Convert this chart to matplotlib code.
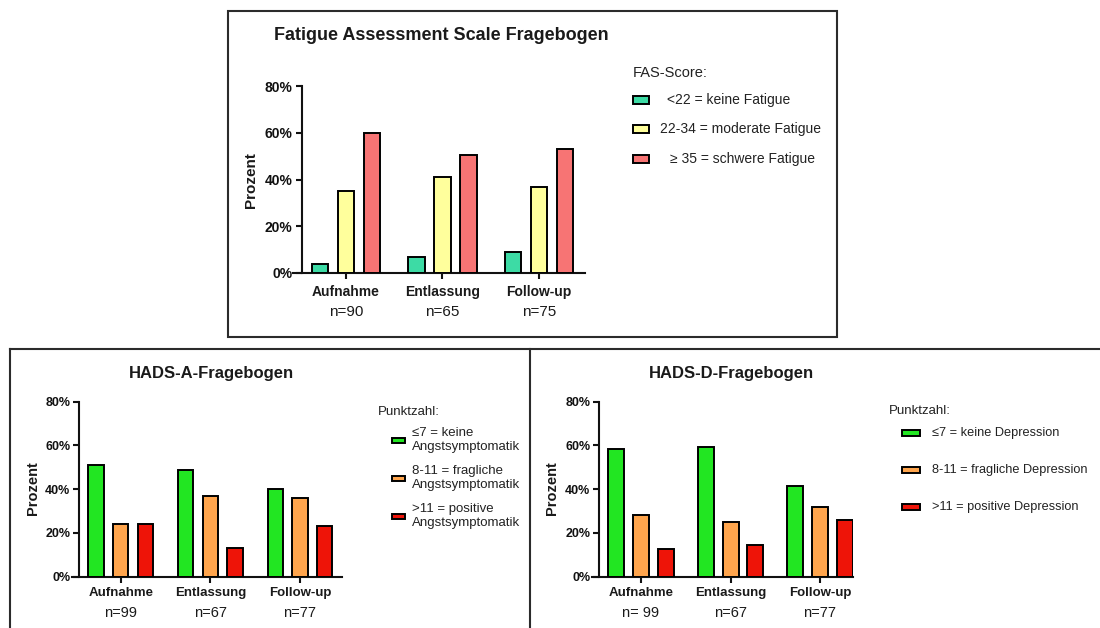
import matplotlib
matplotlib.use("Agg")
import matplotlib.pyplot as plt
from matplotlib.patches import Rectangle
from matplotlib.lines import Line2D
from matplotlib.ticker import FuncFormatter

plt.rcParams['font.family'] = ['Liberation Sans', 'DejaVu Sans']

# ---------------- data ----------------
categories = ["Aufnahme", "Entlassung", "Follow-up"]

fas_n = ["n=90", "n=65", "n=75"]
fas_title = "Fatigue Assessment Scale Fragebogen"
fas_legend_title = "FAS-Score:"
fas_labels = ["<22 = keine Fatigue", "22-34 = moderate Fatigue", "\u2265 35 = schwere Fatigue"]
fas_keine = [4, 7, 9]
fas_moderat = [35, 41, 37]
fas_schwer = [60, 50.5, 53]
fas_colors = ["#3ddba5", "#ffff9c", "#f77474"]

hadsa_n = ["n=99", "n=67", "n=77"]
hadsa_title = "HADS-A-Fragebogen"
hadsa_legend_title = "Punktzahl:"
hadsa_labels = ["\u22647 = keine\nAngstsymptomatik", "8-11 = fragliche\nAngstsymptomatik",
                ">11 = positive\nAngstsymptomatik"]
hadsa_keine = [51, 49, 40]
hadsa_fraglich = [24, 37, 36]
hadsa_positiv = [24, 13, 23]

hadsd_n = ["n= 99", "n=67", "n=77"]
hadsd_title = "HADS-D-Fragebogen"
hadsd_legend_title = "Punktzahl:"
hadsd_labels = ["\u22647 = keine Depression", "8-11 = fragliche Depression", ">11 = positive Depression"]
hadsd_keine = [58.3, 59.3, 41.4]
hadsd_fraglich = [28, 25, 32]
hadsd_positiv = [12.8, 14.6, 25.7]

hads_colors = ["#22e622", "#ffa54d", "#ee1408"]

y_ticks = [0, 20, 40, 60, 80]
ylabel = "Prozent"

# ---------------- layout ----------------
W, H = 1100, 628
fig = plt.figure(figsize=(W / 100, H / 100), dpi=100)
fig.patch.set_facecolor("white")


def fx(x):
    return x / W


def fy(y):
    return 1 - y / H


def rect(x0, y0, x1, y1):
    return [fx(x0), fy(y1), (x1 - x0) / W, (y1 - y0) / H]


LINE = "#2b2b2b"
# frames
fig.add_artist(Rectangle((fx(227.5), fy(336.5)), (836.5 - 227.5) / W, (336.5 - 11) / H,
                         transform=fig.transFigure, fill=False, edgecolor=LINE, lw=1.5))
fig.add_artist(Line2D([fx(10), fx(1100)], [fy(348.5), fy(348.5)], transform=fig.transFigure,
                      color=LINE, lw=1.5))
fig.add_artist(Line2D([fx(10), fx(10)], [fy(348.5), fy(640)], transform=fig.transFigure,
                      color=LINE, lw=1.5))
fig.add_artist(Line2D([fx(529.5), fx(529.5)], [fy(348.5), fy(640)], transform=fig.transFigure,
                      color=LINE, lw=1.5))


def panel(box, xlim, yspine, series, colors, width, offset, tick_fs, cat_fs, n_fs,
          n_labels, cat_y, n_y, ylab_x, ylab_y, ylab_fs):
    x0, y0, x1, y1 = box
    ax = fig.add_axes(rect(x0, y0, x1, y1))
    ax.set_facecolor("none")
    xs = range(len(categories))
    offs = [-offset, 0, offset]
    for vals, col, o in zip(series, colors, offs):
        ax.bar([x + o for x in xs], vals, width=width, color=col, edgecolor="black",
               linewidth=1.4, zorder=3)
    ax.set_xlim(*xlim)
    ax.set_ylim(0, 80)
    for s in ["top", "right"]:
        ax.spines[s].set_visible(False)
    ax.spines["left"].set_position(("data", yspine))
    ax.spines["left"].set_bounds(0, 80)
    for s in ["left", "bottom"]:
        ax.spines[s].set_linewidth(1.5)
        ax.spines[s].set_color("#111111")
    ax.set_yticks(y_ticks)
    ax.yaxis.set_major_formatter(FuncFormatter(lambda v, p: f"{int(v)}%"))
    ax.tick_params(axis="y", length=4, width=1.5, pad=2.5, labelsize=tick_fs, colors="#111111")
    for lab in ax.get_yticklabels():
        lab.set_fontweight("bold")
    ax.set_xticks(list(xs))
    ax.set_xticklabels([""] * len(categories))
    ax.tick_params(axis="x", length=4, width=1.5, colors="#111111")
    # category labels and n
    for i, (c, n) in enumerate(zip(categories, n_labels)):
        xp = ax.transData.transform((i, 0))[0]
        fig.text(xp / W, fy(cat_y), c, ha="center", va="center", fontsize=cat_fs,
                 fontweight="bold", color="#1a1a1a")
        fig.text(xp / W, fy(n_y), n, ha="center", va="center", fontsize=n_fs, color="#1a1a1a")
    fig.text(fx(ylab_x), fy(ylab_y), ylabel, rotation=90, ha="center", va="center",
             fontsize=ylab_fs, fontweight="bold", color="#1a1a1a")
    return ax


def legend(title, tx, ty, labels, colors, px0, pw, ph, ys, txs, fs, title_fs, linesp=1.1):
    fig.text(fx(tx), fy(ty), title, ha="left", va="center", fontsize=title_fs, color="#222222")
    for lab, col, y, t in zip(labels, colors, ys, txs):
        fig.add_artist(Rectangle((fx(px0), fy(y + ph / 2)), pw / W, ph / H,
                                 transform=fig.transFigure, facecolor=col, edgecolor="black",
                                 lw=1.4))
        fig.text(fx(t), fy(y), lab, ha="left", va="center", fontsize=fs, color="#222222",
                 linespacing=linesp)


# top panel
ax1 = panel((293, 86, 585, 273), (-0.549, 2.477), -0.459,
            [fas_keine, fas_moderat, fas_schwer], fas_colors, 0.171, 0.27,
            10, 10, 11, fas_n, 292, 312, 251, 180, 11)
fig.text(fx(274), fy(35), fas_title, ha="left", va="center", fontsize=13, fontweight="bold",
         color="#1a1a1a")
legend(fas_legend_title, 633, 73, fas_labels, fas_colors, 633, 16, 7, [100, 129, 159],
       [667, 660, 670], 10, 10.5)

# bottom left
ax2 = panel((71.7, 401.7, 341.7, 576.7), (-0.547, 2.465), -0.462,
            [hadsa_keine, hadsa_fraglich, hadsa_positiv], hads_colors, 0.173, 0.275,
            9, 9.5, 10.5, hadsa_n, 593, 613, 32.7, 488, 10.5)
fig.text(fx(211), fy(373.5), hadsa_title, ha="center", va="center", fontsize=12,
         fontweight="bold", color="#1a1a1a")
legend(hadsa_legend_title, 378, 412, hadsa_labels, hads_colors, 392, 13, 5, [440, 478, 516],
       [412, 412, 412], 9.5, 9.5, 1.25)

# bottom right
ax3 = panel((591.7, 401.7, 853.3, 576.7), (-0.551, 2.372), -0.467,
            [hadsd_keine, hadsd_fraglich, hadsd_positiv], hads_colors, 0.179, 0.276,
            9, 9.5, 10.5, hadsd_n, 593, 613, 552, 488, 10.5)
fig.text(fx(731), fy(373.5), hadsd_title, ha="center", va="center", fontsize=12,
         fontweight="bold", color="#1a1a1a")
legend(hadsd_legend_title, 889, 411, hadsd_labels, hads_colors, 902, 18, 6, [433, 470, 507],
       [932, 932, 932], 9.2, 9.5)

fig.savefig("out.png", dpi=100, facecolor="white")
